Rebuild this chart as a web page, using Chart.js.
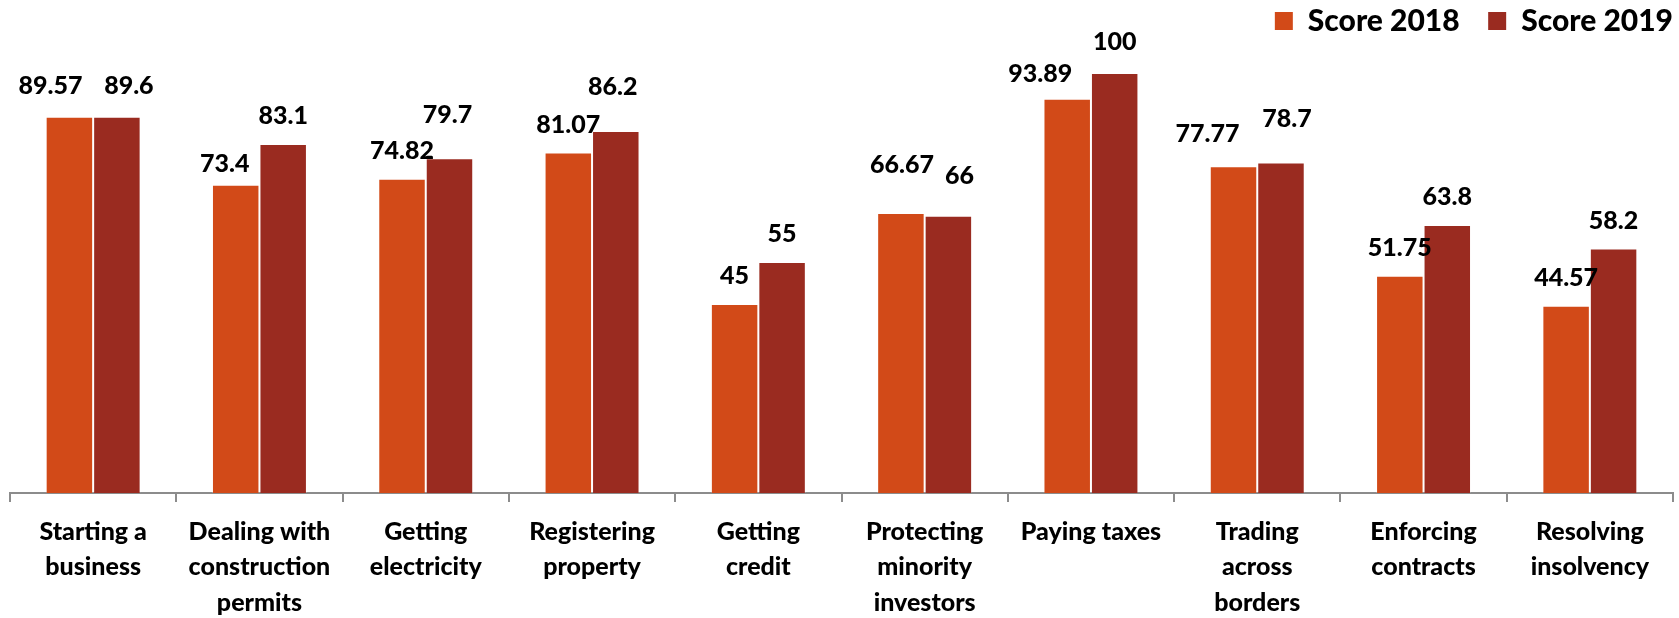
<!DOCTYPE html>
<html>
<head>
<meta charset="utf-8">
<title>Score 2018 vs Score 2019</title>
<script src="https://cdn.jsdelivr.net/npm/chart.js@4.4.1/dist/chart.umd.min.js"></script>
<style>
  html, body { margin: 0; padding: 0; background: #fff; }
  #wrap { width: 1679px; height: 618px; }
</style>
</head>
<body>
<div id="wrap"><canvas id="scoreChart" width="1679" height="618"></canvas></div>
<script>
var categories = [
  ['Starting a', 'business'],
  ['Dealing with', 'construction', 'permits'],
  ['Getting', 'electricity'],
  ['Registering', 'property'],
  ['Getting', 'credit'],
  ['Protecting', 'minority', 'investors'],
  ['Paying taxes'],
  ['Trading', 'across', 'borders'],
  ['Enforcing', 'contracts'],
  ['Resolving', 'insolvency']
];
var score2018 = [89.57, 73.4, 74.82, 81.07, 45, 66.67, 93.89, 77.77, 51.75, 44.57];
var score2019 = [89.6, 83.1, 79.7, 86.2, 55, 66, 100, 78.7, 63.8, 58.2];
var seriesNames = ['Score 2018', 'Score 2019'];

// some value labels were dragged off their default spot: [dx, dy] in px
var nudge2018 = [[-19, -3], [-11, 7], [0, 0], [0, 0], [0, 0], [1, -20], [-27, 3], [-26, -4], [0, 0], [0, 0]];
var nudge2019 = [[12, -3], [0, 0], [-2, -15], [-3, -16], [0, 0], [11, -12], [0, -3], [6, -16], [0, 0], [0, 0]];

var orange = '#d24a18';
var darkRed = '#9a2b20';
var axisGrey = '#8c8c8c';
var fontStack = 'Lato, "Open Sans", sans-serif';

Chart.defaults.font.family = fontStack;
Chart.defaults.font.weight = 900;
Chart.defaults.color = '#000';

// push the plot area down below the legend
var legendGap = {
  id: 'legendGap',
  beforeInit: function(chart) {
    var fit = chart.legend.fit;
    chart.legend.fit = function() {
      fit.bind(chart.legend)();
      this.height += 27;
    };
  }
};

// value labels above each bar
var valueLabels = {
  id: 'valueLabels',
  afterDatasetsDraw: function(chart) {
    var ctx = chart.ctx;
    var nudges = [nudge2018, nudge2019];
    ctx.save();
    ctx.font = '900 25px ' + fontStack;
    ctx.fillStyle = '#000';
    ctx.textAlign = 'center';
    ctx.textBaseline = 'middle';
    chart.data.datasets.forEach(function(ds, d) {
      var meta = chart.getDatasetMeta(d);
      meta.data.forEach(function(bar, i) {
        var n = nudges[d][i];
        ctx.fillText(String(ds.data[i]), bar.x + n[0], bar.y - 28 + n[1]);
      });
    });
    ctx.restore();
  }
};

var ctx = document.getElementById('scoreChart').getContext('2d');
var scoreChart = new Chart(ctx, {
  type: 'bar',
  data: {
    labels: categories,
    datasets: [
      {
        label: seriesNames[0],
        data: score2018,
        backgroundColor: orange,
        borderColor: 'rgba(255,255,255,0.18)',
        borderWidth: 1,
        categoryPercentage: 0.571,
        barPercentage: 1
      },
      {
        label: seriesNames[1],
        data: score2019,
        backgroundColor: darkRed,
        borderColor: 'rgba(255,255,255,0.18)',
        borderWidth: 1,
        categoryPercentage: 0.571,
        barPercentage: 1
      }
    ]
  },
  options: {
    responsive: false,
    animation: false,
    layout: { padding: { top: 6, left: 10, right: 6, bottom: 0 } },
    plugins: {
      tooltip: { enabled: false },
      legend: {
        position: 'top',
        align: 'end',
        labels: {
          boxWidth: 18,
          boxHeight: 18,
          padding: 0,
          color: '#000',
          font: { size: 30, weight: 900 },
          generateLabels: function(chart) {
            var items = Chart.defaults.plugins.legend.labels.generateLabels(chart);
            items.forEach(function(it) { it.lineWidth = 0; });
            // room between the two legend entries
            items[0].text += '    ';
            return items;
          }
        }
      }
    },
    scales: {
      x: {
        afterFit: function(scale) { scale.height = 125; },
        grid: {
          offset: true,
          drawOnChartArea: false,
          drawTicks: true,
          tickLength: 9,
          lineWidth: 2,
          color: axisGrey
        },
        border: { display: true, color: axisGrey, width: 2 },
        ticks: {
          autoSkip: false,
          maxRotation: 0,
          padding: 12,
          color: '#000',
          font: { size: 25, weight: 900, lineHeight: 1.42 }
        }
      },
      y: {
        display: false,
        min: 0,
        max: 100
      }
    }
  },
  plugins: [legendGap, valueLabels]
});
</script>
</body>
</html>
